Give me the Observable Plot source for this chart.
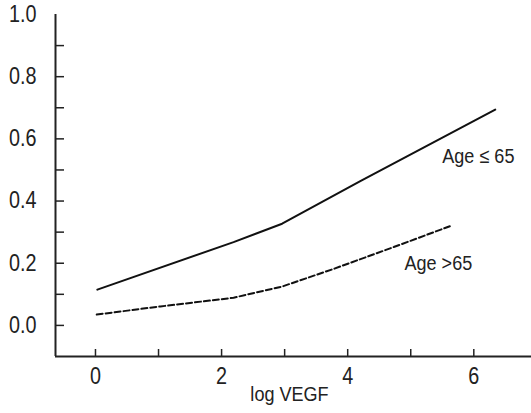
<!DOCTYPE html>
<html>
<head>
<meta charset="utf-8">
<script src="https://cdn.jsdelivr.net/npm/d3@7"></script>
<script src="https://cdn.jsdelivr.net/npm/@observablehq/plot@0.6"></script>
<style>
  html, body { margin: 0; padding: 0; background: #fff; }
  #chart svg { display: block; }
</style>
</head>
<body>
<div id="chart"></div>
<script>
// Data
const youngX = [0.03, 2.19, 2.96, 4.2, 6.34];
const youngY = [0.115, 0.268, 0.327, 0.464, 0.694];
const oldX = [0.02, 1.03, 2.19, 2.96, 3.78, 4.73, 5.62];
const oldY = [0.035, 0.061, 0.089, 0.125, 0.182, 0.252, 0.319];

const seriesLabels = ["Age \u2264 65", "Age >65"];
const labelX = [5.50, 4.90];
const labelY = [0.545, 0.201];

const xTicks = [0, 1, 2, 3, 4, 5, 6];
const xTickLabels = [0, 2, 4, 6];
const yTicks = [0, 0.1, 0.2, 0.3, 0.4, 0.5, 0.6, 0.7, 0.8, 0.9];
const yTickLabels = [0, 0.2, 0.4, 0.6, 0.8, 1.0];
const xTitle = "log VEGF";

const xDomain = [-0.634, 6.915];
const yDomain = [-0.1, 1.0];

const young = youngX.map((x, i) => ({x, y: youngY[i]}));
const old = oldX.map((x, i) => ({x, y: oldY[i]}));
const labels = seriesLabels.map((t, i) => ({t, x: labelX[i], y: labelY[i]}));

const font = "'Liberation Sans', Arial, Helvetica, sans-serif";
const ink = "#222";

const chart = Plot.plot({
  width: 531,
  height: 413,
  marginLeft: 55,
  marginRight: 0,
  marginTop: 14,
  marginBottom: 57,
  style: {fontFamily: font, fontSize: "22px", color: ink, background: "#fff"},
  x: {domain: xDomain},
  y: {domain: yDomain},
  marks: [
    // tick marks pointing inward
    Plot.axisY({ticks: yTicks, tickSize: -9, tickFormat: () => "", label: null, stroke: ink, strokeWidth: 1.5}),
    Plot.axisX({ticks: xTicks, tickSize: -7, tickFormat: () => "", label: null, stroke: ink, strokeWidth: 1.5}),
    // tick labels
    Plot.axisY({ticks: yTickLabels, tickSize: 0, tickPadding: 19, tickFormat: d3.format(".1f"), label: null, fontSize: 23, fill: ink}),
    Plot.axisX({ticks: xTickLabels, tickSize: 0, tickPadding: 11, tickFormat: d3.format("d"), label: null, fontSize: 23, fill: ink}),
    // axis lines
    Plot.ruleX([xDomain[0]], {stroke: ink, strokeWidth: 2}),
    Plot.ruleY([yDomain[0]], {stroke: ink, strokeWidth: 2}),
    // series
    Plot.line(young, {x: "x", y: "y", stroke: "#111", strokeWidth: 2}),
    Plot.line(old, {x: "x", y: "y", stroke: "#111", strokeWidth: 2, strokeDasharray: "6,3"}),
    Plot.text(labels, {x: "x", y: "y", text: "t", textAnchor: "start", fontSize: 21, fill: ink}),
    Plot.text([xTitle], {frameAnchor: "bottom", dy: 44, dx: -4, fontSize: 21, fill: ink})
  ]
});

// condense the glyphs horizontally (narrow typeface look), pivoting on each text's anchor
const squeeze = 0.86;
chart.querySelectorAll("text").forEach((t) => {
  const xa = parseFloat(t.getAttribute("x"));
  const px = isFinite(xa) ? xa : 0;
  const tr = t.getAttribute("transform") || "";
  t.setAttribute("transform", `${tr} translate(${px},0) scale(${squeeze},1) translate(${-px},0)`.trim());
});

document.getElementById("chart").appendChild(chart);
</script>
</body>
</html>
